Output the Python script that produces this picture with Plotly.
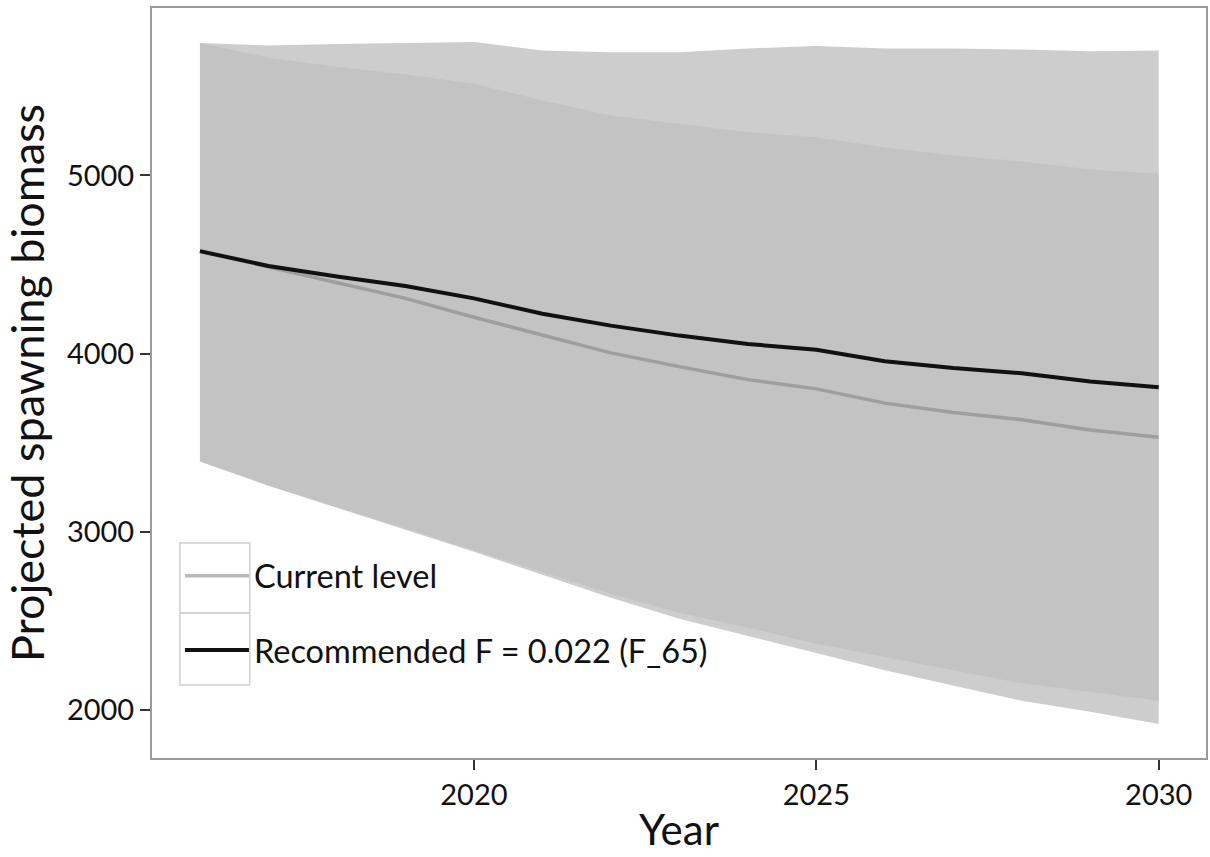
import plotly.graph_objects as go

# Projection years
years = list(range(2016, 2031))

# Median projected spawning biomass under each harvest scenario
current_level = [4575, 4485, 4397, 4310, 4204, 4102, 4004, 3927, 3854, 3802,
                 3722, 3669, 3629, 3571, 3530]
recommended_f = [4575, 4492, 4433, 4379, 4310, 4224, 4157, 4101, 4054, 4022,
                 3957, 3919, 3890, 3843, 3811]

# Uncertainty envelopes (lower / upper bounds)
current_lower = [3395, 3258, 3135, 3011, 2888, 2758, 2629, 2511, 2416, 2320,
                 2222, 2135, 2051, 1989, 1921]
current_upper = [5743, 5661, 5610, 5567, 5515, 5421, 5337, 5292, 5243, 5215,
                 5157, 5112, 5079, 5034, 5010]
recommended_lower = [3395, 3260, 3138, 3018, 2898, 2775, 2652, 2545, 2461, 2371,
                     2298, 2222, 2149, 2101, 2051]
recommended_upper = [5743, 5730, 5738, 5745, 5749, 5702, 5692, 5692, 5713, 5727,
                     5712, 5712, 5707, 5697, 5702]

x_ticks = [2020, 2025, 2030]
y_ticks = [2000, 3000, 4000, 5000]

FONT = "Lato"
RIBBON = "rgba(192,192,192,0.8)"

fig = go.Figure()


def add_ribbon(lower, upper):
    fig.add_trace(go.Scatter(
        x=years + years[::-1], y=upper + lower[::-1],
        mode="lines", fill="toself", fillcolor=RIBBON,
        line=dict(width=0), hoverinfo="skip", showlegend=False))


add_ribbon(recommended_lower, recommended_upper)
add_ribbon(current_lower, current_upper)

fig.add_trace(go.Scatter(
    x=years, y=current_level, mode="lines", name="Current level",
    line=dict(color="rgba(128,128,128,0.55)", width=3.5), legendgroup="a"))
fig.add_trace(go.Scatter(
    x=years, y=recommended_f, mode="lines", name="Recommended F = 0.022 (F_65)",
    line=dict(color="#111111", width=4), legendgroup="b"))

axis_common = dict(
    showgrid=False, zeroline=False,
    showline=True, linecolor="#9a9a9a", linewidth=2, mirror=True,
    ticks="outside", ticklen=10, tickwidth=2, tickcolor="#333333",
    tickfont=dict(family=FONT, size=29, color="#111111"),
)

fig.update_xaxes(
    range=[2015.30, 2030.69], tickvals=x_ticks,
    title=dict(text="Year", font=dict(family=FONT, size=42, color="#111111"),
               standoff=6),
    **axis_common)
fig.update_yaxes(
    range=[1730, 5940], tickvals=y_ticks,
    title=dict(text="Projected spawning biomass",
               font=dict(family=FONT, size=45, color="#111111"), standoff=8),
    **axis_common)

# Legend key boxes
key_box = dict(type="rect", xref="paper", yref="paper",
               line=dict(color="#d0d0d0", width=1.5), fillcolor="rgba(0,0,0,0)",
               layer="above")
fig.add_shape(x0=0.0265, x1=0.0928, y0=0.1933, y1=0.2867, **key_box)
fig.add_shape(x0=0.0265, x1=0.0928, y0=0.0973, y1=0.1933, **key_box)

fig.update_layout(
    width=1210, height=857,
    margin=dict(l=152, r=2, t=8, b=99),
    plot_bgcolor="white", paper_bgcolor="white",
    font=dict(family=FONT, color="#111111"),
    legend=dict(
        x=0.0265, y=0.28, xanchor="left", yanchor="top",
        bgcolor="rgba(0,0,0,0)", borderwidth=0,
        font=dict(family=FONT, size=32.5, color="#111111"),
        itemwidth=64, tracegroupgap=29, traceorder="grouped",
    ),
)

fig.write_html("out.html")
